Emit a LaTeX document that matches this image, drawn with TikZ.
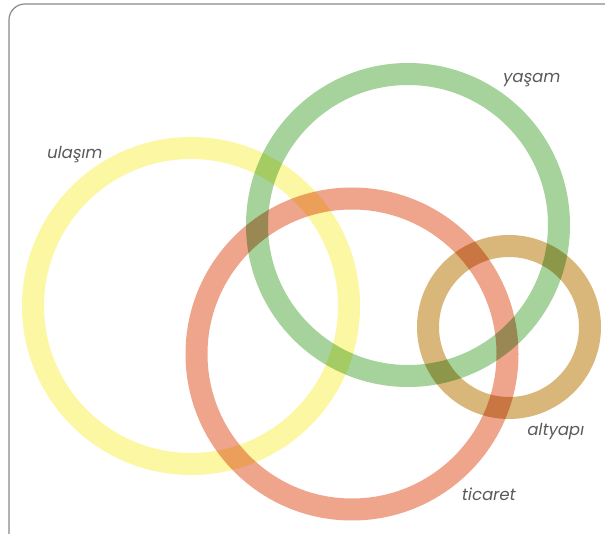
\documentclass[tikz,border=0pt]{standalone}
\usepackage{fontspec}
\newfontfamily\lbl{Poppins}[FakeSlant=0.18]
\definecolor{ringyellow}{HTML}{FCF7A2}
\definecolor{ringgreen}{HTML}{A6D39B}
\definecolor{ringred}{HTML}{EEA58B}
\definecolor{ringgold}{HTML}{D9B77A}
\definecolor{labelgray}{HTML}{5A5A5A}
\definecolor{framegray}{HTML}{8A8A8A}
\tikzset{
  ring/.style={line width=22pt, blend mode=multiply},
  label/.style={font=\lbl\fontsize{16.5}{18}\selectfont, text=labelgray, inner sep=0pt}
}
\begin{document}
\begin{tikzpicture}[x=1pt,y=-1pt]
\useasboundingbox (0,0) rectangle (605,534);
\fill[white] (0,0) rectangle (605,534);
% frame
\draw[framegray, line width=1.2pt, rounded corners=16pt] (620,4) -- (9,4) -- (9,560);
% labels
\node[label] (ulasim) at (74,155) {ulaşım};
\node[label] (yasam) at (531,80) {yaşam};
\node[label] (altyapi) at (555,432) {altyapı};
\node[label] (ticaret) at (488,494) {ticaret};
% rings
\draw[ring, ringyellow] (191,306) circle[radius=158];
\draw[ring, ringgreen] (408,225) circle[radius=151];
\draw[ring, ringred] (352,354) circle[radius=155.5];
\draw[ring, ringgold] (509,327) circle[radius=81];
\end{tikzpicture}
\end{document}
